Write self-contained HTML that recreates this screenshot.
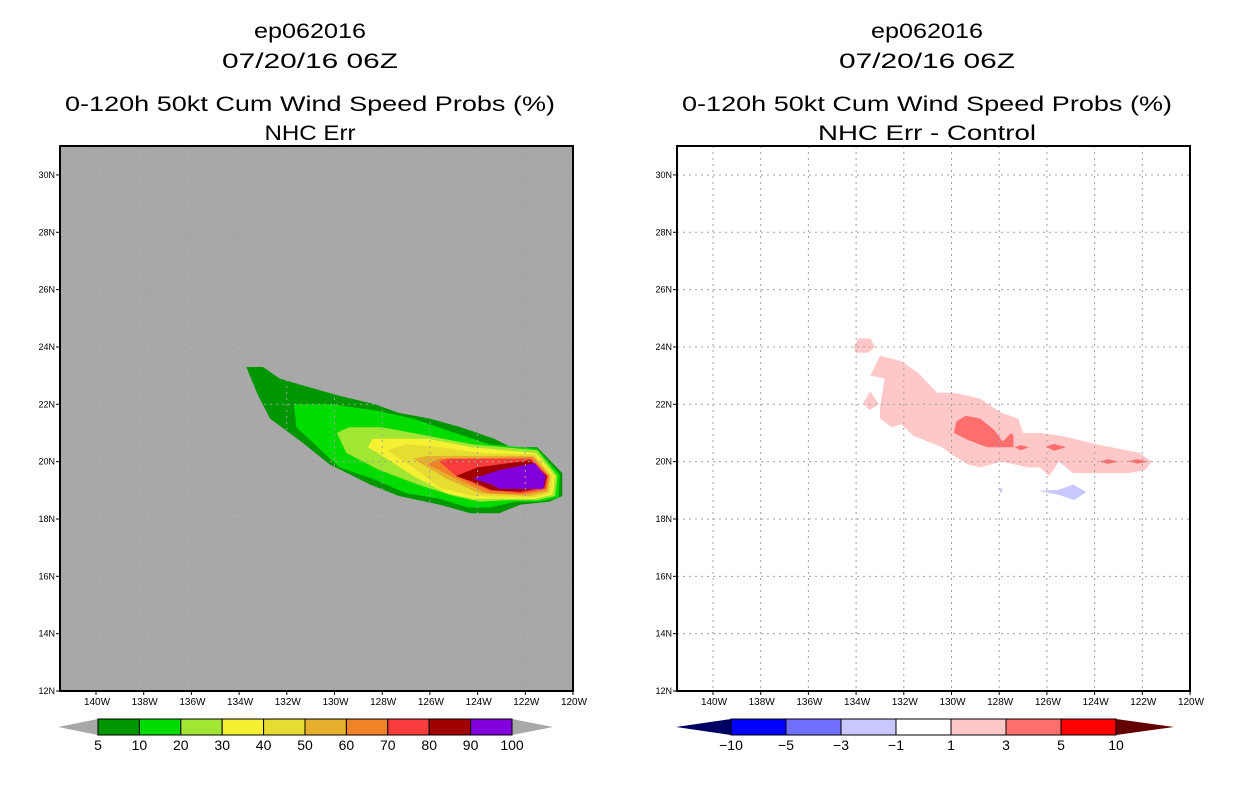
<!DOCTYPE html>
<html><head><meta charset="utf-8"><style>
html,body{margin:0;padding:0;background:#fff;}
svg text{font-family:"Liberation Sans",sans-serif;}
</style></head><body>
<svg id="s" width="1236" height="800" xmlns="http://www.w3.org/2000/svg"></svg>
<script>
// ---- data ----
const latTicks=[12,14,16,18,20,22,24,26,28,30];
const lonTicks=[140,138,136,134,132,130,128,126,124,122,120];
const probLevels=[5,10,20,30,40,50,60,70,80,90,100];
const probColors=["#009600","#00dc00","#a0e632","#f5f032","#e6dc32","#e6af2d","#f08228","#fa3c3c","#a00000","#8200dc"];
const diffLevels=["-10","-5","-3","-1","1","3","5","10"];
const diffColors=["#0000ff","#7070ff","#c8c8ff","#ffffff","#ffc8c8","#ff6e6e","#ff0000"];
const prob5=[[133.7,23.3],[133.0,23.3],[132.3,22.9],[131.5,22.7],[129.8,22.3],[128.3,22.0],[127.3,21.7],[126.0,21.5],[124.7,21.2],[123.3,20.8],[122.6,20.5],[121.5,20.5],[120.45,19.6],[120.45,18.8],[121.0,18.6],[122.2,18.5],[123.1,18.2],[124.3,18.2],[125.6,18.5],[127.3,18.8],[128.5,19.2],[130.2,19.9],[131.4,20.7],[132.7,21.5],[133.2,22.3],[133.5,22.9]];
const prob10=[[131.7,22.0],[130.1,22.0],[128.4,21.8],[126.7,21.5],[125.3,21.1],[123.5,20.6],[121.5,20.45],[120.55,19.55],[120.6,18.75],[121.4,18.6],[122.4,18.6],[123.5,18.4],[124.4,18.4],[125.6,18.7],[127.0,18.9],[128.4,19.4],[129.8,19.8],[130.7,20.5],[131.6,21.2]];
const prob20=[[129.9,21.0],[129.4,21.2],[128.0,21.2],[126.1,20.9],[124.2,20.6],[121.5,20.4],[120.65,19.5],[120.75,18.8],[121.5,18.65],[122.8,18.65],[123.9,18.6],[125.0,18.8],[126.5,19.2],[128.1,19.7],[129.5,20.3]];
const prob30=[[128.6,20.5],[128.4,20.8],[127.6,20.8],[126.1,20.8],[124.2,20.5],[121.55,20.3],[120.75,19.5],[120.85,18.85],[121.6,18.7],[124.2,18.7],[125.3,18.9],[126.7,19.5],[127.8,20.1]];
const prob40=[[127.8,20.4],[127.0,20.6],[125.6,20.5],[123.9,20.3],[121.6,20.25],[120.85,19.5],[120.95,18.9],[121.7,18.75],[124.2,18.8],[125.6,19.1],[126.7,19.8]];
const prob50=[[126.7,20.1],[126.1,20.2],[124.2,20.2],[121.65,20.2],[120.95,19.5],[121.05,18.95],[121.8,18.8],[123.9,18.9],[125.3,19.4],[126.1,19.8]];
const prob60=[[126.1,19.9],[125.6,20.1],[121.7,20.15],[121.0,19.5],[121.1,19.0],[122.1,18.85],[123.6,18.9],[124.9,19.4]];
const prob70=[[125.6,20.0],[125.3,20.1],[121.75,20.1],[121.05,19.5],[121.15,19.05],[122.2,18.9],[123.5,19.0],[124.9,19.5]];
const prob80=[[124.9,19.5],[124.0,19.8],[121.8,20.05],[121.1,19.5],[121.2,19.1],[122.2,18.95],[123.4,19.0],[124.2,19.3]];
const prob90=[[124.2,19.4],[123.1,19.7],[121.9,19.9],[121.6,19.95],[121.15,19.5],[121.25,19.05],[123.1,19.05],[123.4,19.2]];
const diffPink1=[[133.0,23.7],[132.1,23.5],[131.4,23.1],[130.6,22.4],[129.9,22.4],[128.8,22.2],[127.9,21.7],[127.2,21.5],[127.0,21.0],[126.3,21.0],[125.4,20.9],[123.9,20.6],[122.1,20.3],[121.6,20.0],[121.9,19.7],[122.6,19.6],[123.7,19.6],[124.9,19.6],[125.5,20.0],[125.9,19.5],[126.3,19.8],[126.8,19.8],[127.9,20.0],[128.8,19.8],[129.3,19.9],[129.9,20.2],[130.4,20.5],[131.6,20.9],[132.1,21.3],[132.5,21.2],[133.0,21.5],[133.0,21.9],[132.8,22.9],[133.4,23.0]];
const diffPink2=[[134.1,24.0],[133.9,24.3],[133.4,24.3],[133.2,24.0],[133.5,23.8],[134.0,23.8]];
const diffPink3=[[133.7,22.05],[133.4,22.45],[133.05,22.0],[133.45,21.8]];
const diffRed1=[[129.8,21.4],[129.4,21.6],[128.8,21.5],[128.2,21.1],[127.85,20.7],[127.5,21.0],[127.4,20.9],[127.4,20.5],[128.05,20.5],[128.5,20.5],[129.3,20.75],[129.9,21.0]];
const diffRed2=[[127.35,20.5],[127.1,20.58],[126.75,20.5],[127.1,20.4]];
const diffRed3=[[126.05,20.52],[125.7,20.62],[125.2,20.5],[125.7,20.38]];
const diffRed4=[[123.8,20.0],[123.44,20.08],[123.0,20.0],[123.44,19.92]];
const diffRed5=[[122.6,20.02],[122.2,20.08],[121.75,20.0],[122.2,19.93]];
const diffBlue1=[[126.35,18.98],[125.5,19.02],[124.9,19.2],[124.35,18.94],[124.85,18.66],[125.5,18.84]];
const diffBlue2=[[128.0,19.0],[127.92,19.1],[127.85,19.0],[127.92,18.9]];

const S=document.getElementById('s');
const NS="http://www.w3.org/2000/svg";
function mk(tag,attrs,parent){const e=document.createElementNS(NS,tag);for(const k in attrs)e.setAttribute(k,attrs[k]);(parent||S).appendChild(e);return e;}
const FY0=146,FH=545;
function xs(x0){return w=>x0+36+(140-w)*23.85;}
function ys(lat){return 691-(lat-12)*28.67;}
function poly(g,pts,X,col,name){const p=mk('polygon',{points:pts.map(q=>X(q[0]).toFixed(1)+','+ys(q[1]).toFixed(1)).join(' '),fill:col},g);

}

function panel(x0,bg,name,titles,lastW,drawFn,showGridAll){
  const g=mk('g',{});
  
  
  const X=xs(x0);
  const cx=x0+250;
  const tl=[[38,112],[68,176],[111,490],[140,lastW]];
  titles.forEach((t,i)=>{const a={x:cx,y:tl[i][0],'font-size':21,'text-anchor':'middle',fill:'#000',textLength:tl[i][1],lengthAdjust:'spacingAndGlyphs'};
    const e=mk('text',a,g);e.textContent=t;
    
    });
  const r=mk('rect',{x:x0,y:FY0,width:513,height:FH,fill:bg},g);
  
  
  drawFn(g,X);
  const gg=mk('g',{stroke:'#a0a0a0','stroke-width':1,'stroke-dasharray':'2,4'},g);
  
  
  lonTicks.forEach(w=>{if(w<140.5&&w>120.5)mk('line',{x1:X(w),x2:X(w),y1:FY0,y2:691},gg);});
  latTicks.forEach(l=>{if(l>12)mk('line',{x1:x0,x2:x0+513,y1:ys(l),y2:ys(l)},gg);});
  const fr=mk('rect',{x:x0,y:FY0,width:513,height:FH,fill:'none',stroke:'#000','stroke-width':2},g);
  
  
  latTicks.forEach(l=>{mk('line',{x1:x0-4,x2:x0,y1:ys(l),y2:ys(l),stroke:'#000'},g);
    const t=mk('text',{x:x0-5,y:ys(l)+3,'font-size':9,'text-anchor':'end'},g);t.textContent=l+'N';
    
    });
  lonTicks.forEach(w=>{mk('line',{x1:X(w),x2:X(w),y1:691,y2:695,stroke:'#000'},g);
    const t=mk('text',{x:X(w)+1,y:705,'font-size':10,'text-anchor':'middle'},g);t.textContent=w+'W';
    
    });
  return g;
}

panel(60,'#a8a8a8','left-panel-prob',["ep062016","07/20/16 06Z","0-120h 50kt Cum Wind Speed Probs (%)","NHC Err"],91,(g,X)=>{
  [prob5,prob10,prob20,prob30,prob40,prob50,prob60,prob70,prob80,prob90].forEach((p,i)=>poly(g,p,X,probColors[i],'prob-contour-'+probLevels[i]));
});
panel(677,'#ffffff','right-panel-diff',["ep062016","07/20/16 06Z","0-120h 50kt Cum Wind Speed Probs (%)","NHC Err - Control"],218,(g,X)=>{
  poly(g,diffPink1,X,diffColors[4],'diff-1-3-main');
  poly(g,diffPink2,X,diffColors[4],'diff-1-3-blob');
  poly(g,diffPink3,X,diffColors[4],'diff-1-3-blob');
  [diffRed1,diffRed2,diffRed3,diffRed4,diffRed5].forEach(p=>poly(g,p,X,diffColors[5],'diff-3-5'));
  poly(g,diffBlue1,X,diffColors[2],'diff-neg-1-3');
  poly(g,diffBlue2,X,diffColors[2],'diff-neg-1-3');
});

function colorbar(name,x0,x1,colors,labels,tipL,tipR,lcol,rcol){
  const g=mk('g',{});
  
  
  const y0=719,h=16,bw=(x1-x0)/colors.length;
  mk('polygon',{points:`${x0},${y0} ${tipL},${y0+h/2} ${x0},${y0+h}`,fill:lcol},g);
  mk('polygon',{points:`${x1},${y0} ${tipR},${y0+h/2} ${x1},${y0+h}`,fill:rcol},g);
  colors.forEach((c,i)=>{const r=mk('rect',{x:x0+i*bw,y:y0,width:bw,height:h,fill:c,stroke:'#000','stroke-width':1},g);
    
    });
  labels.forEach((l,i)=>{const t=mk('text',{x:x0+i*bw,y:750,'font-size':14,'text-anchor':'middle'},g);t.textContent=l.replace('-','\u2212');
    
    });
}
colorbar('prob-colorbar',98,512,probColors,probLevels.map(String),58,553,'#a8a8a8','#a8a8a8');
colorbar('diff-colorbar',731,1116,diffColors,diffLevels,676,1174,'#000064','#640000');
</script>
</body></html>
